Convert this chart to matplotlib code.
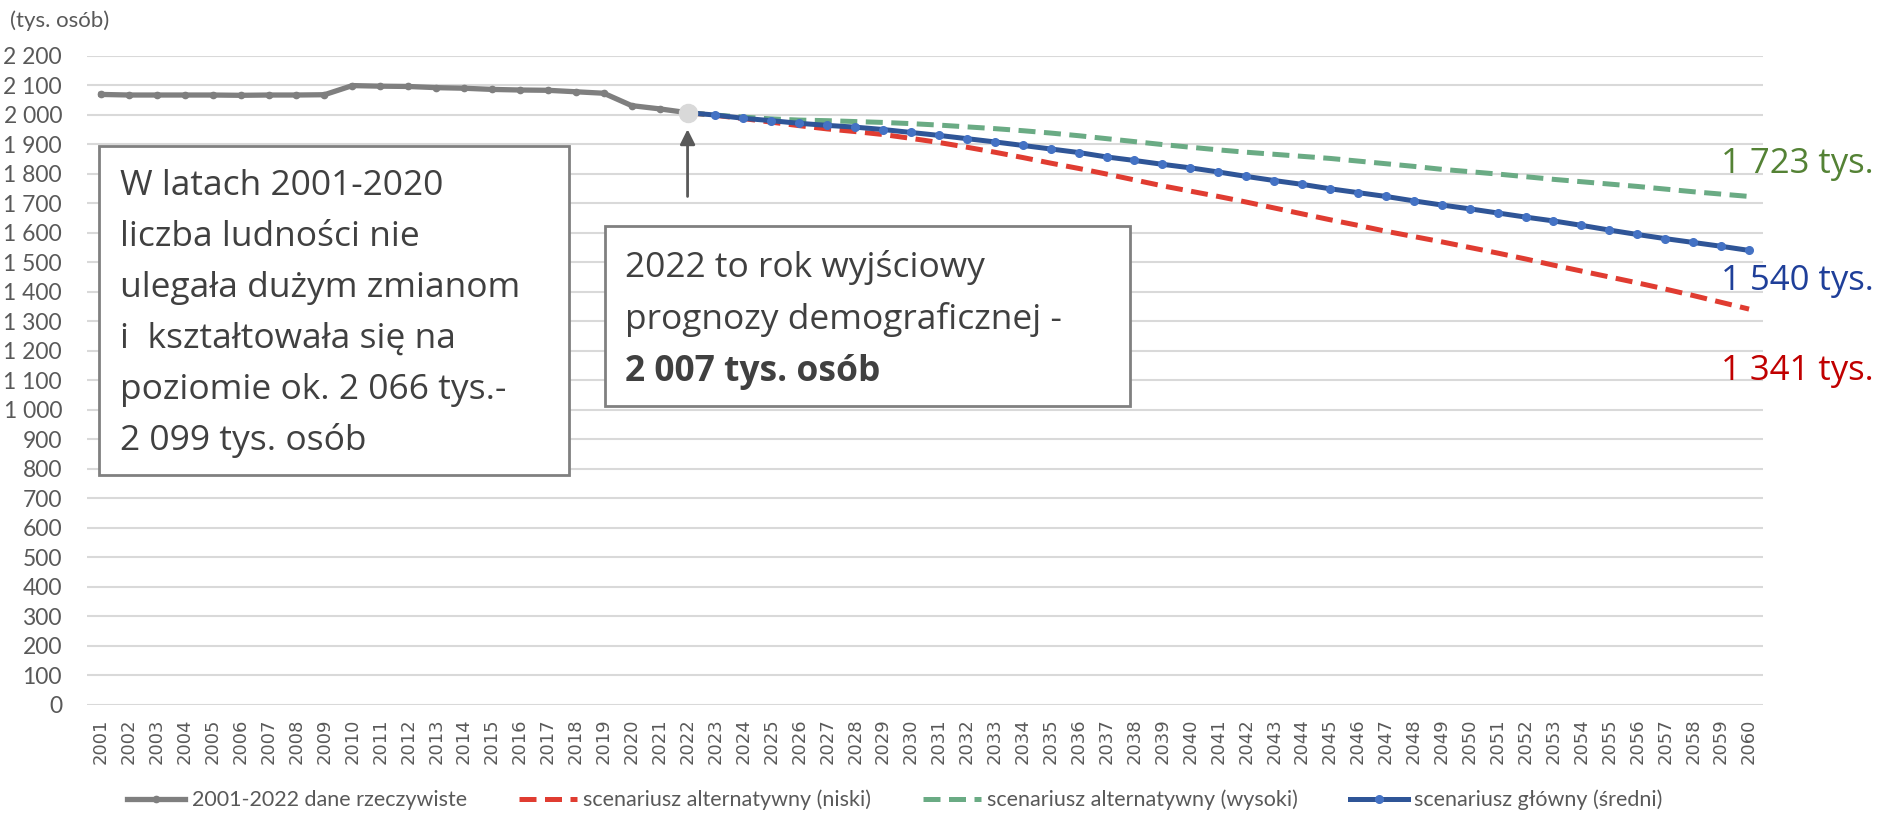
import matplotlib
matplotlib.use("Agg")
import matplotlib.pyplot as plt
from matplotlib.patches import Rectangle
from matplotlib.ticker import FuncFormatter

plt.rcParams["font.family"] = ["Lato", "DejaVu Sans"]

# --- data (tys. osób) ---
years_hist = list(range(2001, 2023))
pop_hist = [2069, 2067, 2067, 2067, 2067, 2066, 2067, 2067, 2068, 2099,
            2097, 2096, 2092, 2090, 2086, 2084, 2083, 2078, 2073, 2031,
            2020, 2007]

years_proj = list(range(2022, 2061))
pop_low = [2007, 1998, 1987, 1975, 1963, 1952, 1943, 1933, 1920, 1906,
           1890, 1873, 1855, 1836, 1818, 1799, 1779, 1759, 1741, 1723,
           1704, 1684, 1664, 1644, 1625, 1605, 1587, 1569, 1550, 1531,
           1511, 1490, 1470, 1450, 1430, 1409, 1387, 1364, 1341]
pop_high = [2007, 1999, 1992, 1986, 1982, 1980, 1977, 1974, 1970, 1965,
            1959, 1953, 1946, 1938, 1929, 1919, 1909, 1899, 1890, 1881,
            1873, 1866, 1859, 1852, 1843, 1834, 1825, 1815, 1807, 1799,
            1790, 1781, 1773, 1765, 1757, 1748, 1739, 1731, 1723]
pop_main = [2007, 1999, 1988, 1980, 1971, 1964, 1958, 1950, 1940, 1930,
            1919, 1908, 1896, 1884, 1872, 1857, 1845, 1832, 1820, 1806,
            1791, 1777, 1764, 1749, 1736, 1723, 1708, 1694, 1681, 1667,
            1653, 1640, 1625, 1609, 1594, 1580, 1567, 1554, 1540]

labels = ["2001-2022 dane rzeczywiste",
          "scenariusz alternatywny (niski)",
          "scenariusz alternatywny (wysoki)",
          "scenariusz główny (średni)"]

box1_lines = ["W latach 2001-2020", "liczba ludności nie",
              "ulegała dużym zmianom", "i  kształtowała się na",
              "poziomie ok. 2 066 tys.-", "2 099 tys. osób"]
box2_lines = ["2022 to rok wyjściowy", "prognozy demograficznej -",
              "2 007 tys. osób"]

W, H = 1889, 815
TXT = "#404040"
AX = "#595959"
BIG = ["Open Sans", "DejaVu Sans"]


def fx(x):
    return x / W


def fy(y):
    return 1 - y / H


fig = plt.figure(figsize=(W / 100, H / 100), dpi=100)
ax = fig.add_axes([fx(87), fy(704.5), fx(1763 - 87), (704.5 - 55.8) / H])

ax.plot(years_hist, pop_hist, color="#7f7f7f", lw=3.8, marker="o", ms=4.5,
        mfc="#7f7f7f", mec="#7f7f7f", label=labels[0], zorder=3)
ax.plot(years_proj, pop_low, color="#e03c31", lw=3.6, ls=(0, (3.4, 1.7)),
        label=labels[1], zorder=3)
ax.plot(years_proj, pop_high, color="#6aab84", lw=3.6, ls=(0, (3.4, 1.7)),
        label=labels[2], zorder=3)
ax.plot(years_proj, pop_main, color="#2f5597", lw=3.6, marker="o", ms=5.5,
        mfc="#4472c4", mec="#4472c4", label=labels[3], zorder=4)
ax.plot([years_hist[-1]], [pop_hist[-1]], "o", ms=13, color="#d9d9d9", zorder=5)

ax.set_xlim(2000.5, 2060.5)
ax.set_ylim(0, 2200)
ax.set_yticks(range(0, 2201, 100))
ax.yaxis.set_major_formatter(FuncFormatter(lambda v, p: f"{int(v):,}".replace(",", " ")))
ax.set_xticks(range(2001, 2061))
ax.set_xticklabels([str(y) for y in range(2001, 2061)], rotation=90,
                   family="DejaVu Sans", fontsize=13)
ax.tick_params(axis="x", length=0, pad=10, colors=AX)
ax.tick_params(axis="y", length=0, pad=18, colors=AX, labelsize=16.5)
ax.grid(axis="y", color="#d9d9d9", lw=1.5)
ax.set_axisbelow(True)
for s in ax.spines.values():
    s.set_visible(False)

# arrow to the base year
ax.annotate("", xy=(2022, 1951), xytext=(2022, 1723),
            arrowprops=dict(arrowstyle="-|>,head_length=0.9,head_width=0.45",
                            color=AX, lw=2, shrinkA=0, shrinkB=0))

fig.text(fx(10), fy(21), "(tys. osób)", fontsize=16, color=AX, va="center")

# text boxes
fig.add_artist(Rectangle((fx(99), fy(475)), fx(470), (475 - 146) / H,
                         transform=fig.transFigure, facecolor="white",
                         edgecolor="#808080", lw=2, zorder=2))
for i, line in enumerate(box1_lines):
    fig.text(fx(120), fy(195 + 51 * i), line, family=BIG, fontsize=25.5,
             color=TXT, va="baseline", zorder=3)

fig.add_artist(Rectangle((fx(605), fy(406)), fx(525), (406 - 226) / H,
                         transform=fig.transFigure, facecolor="white",
                         edgecolor="#808080", lw=2, zorder=2))
for i, line in enumerate(box2_lines):
    fig.text(fx(625), fy(277 + 52 * i), line, family=BIG, fontsize=25.5,
             color=TXT, va="baseline", zorder=3,
             fontweight="bold" if i == 2 else "normal")

# end values
fig.text(fx(1721), fy(173), "1 723 tys.", family=BIG, fontsize=25, color="#548235", va="baseline")
fig.text(fx(1721), fy(290), "1 540 tys.", family=BIG, fontsize=25, color="#1f3f99", va="baseline")
fig.text(fx(1721), fy(380), "1 341 tys.", family=BIG, fontsize=25, color="#c00000", va="baseline")

leg = fig.legend(loc="center", bbox_to_anchor=(fx(895), fy(800)), ncol=4,
                 frameon=False, fontsize=15.5, handlelength=2.7,
                 handletextpad=0.3, columnspacing=2.4)
for t in leg.get_texts():
    t.set_color(AX)

fig.savefig("out.png", dpi=100)
